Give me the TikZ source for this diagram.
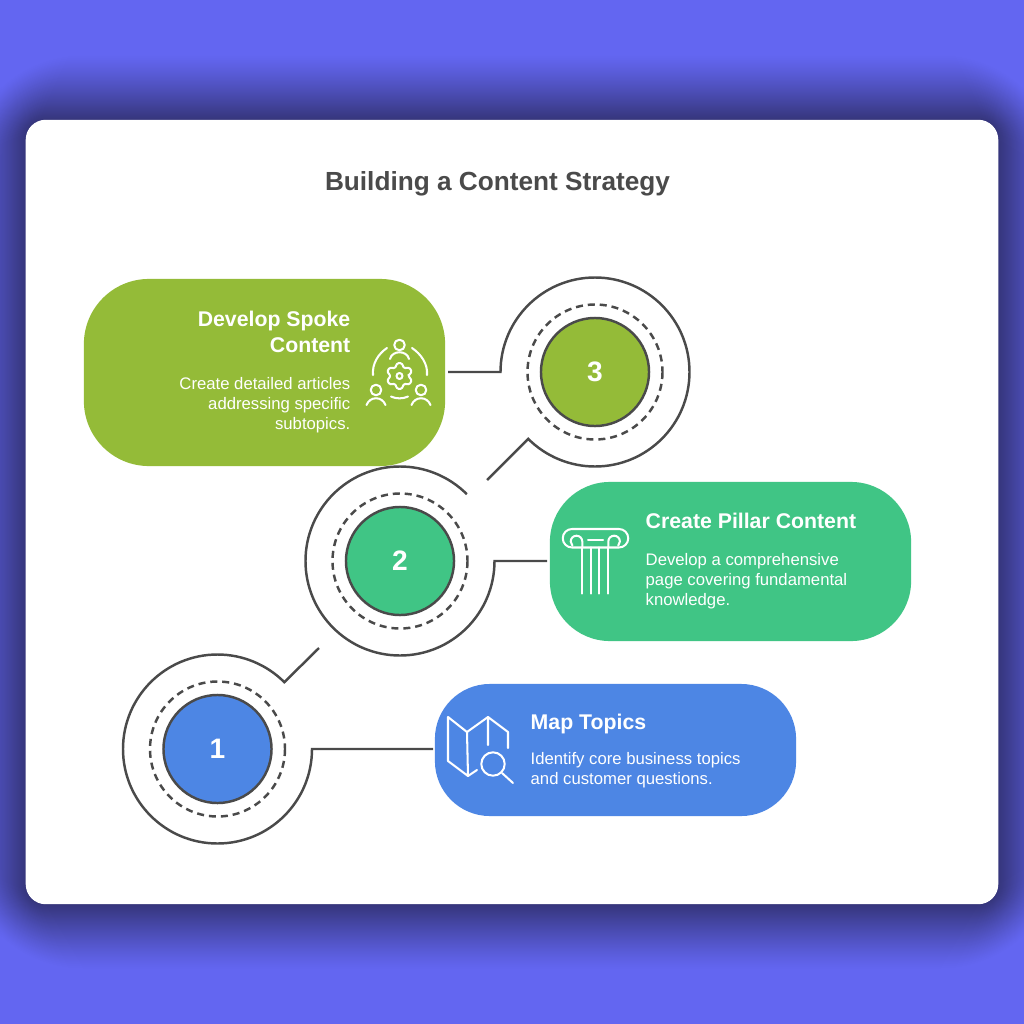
\documentclass[tikz,border=0pt]{standalone}
\usepackage{fontspec}
\setmainfont{Liberation Sans}
\definecolor{pagecol}{HTML}{6366F1}
\definecolor{shadowcol}{HTML}{35357A}
\definecolor{inkcol}{HTML}{4A4A4A}
\definecolor{spokecol}{HTML}{94BB38}
\definecolor{pillarcol}{HTML}{40C585}
\definecolor{mapcol}{HTML}{4D86E4}
\tikzset{
  disc/.style={circle,draw=inkcol,line width=0.7pt,minimum size=1.08cm,inner sep=0pt,text=white,font=\bfseries\fontsize{8}{8}\selectfont},
  ring/.style={draw=inkcol,line width=0.7pt},
  dashring/.style={draw=inkcol,line width=0.7pt,dash pattern=on 2pt off 1.4pt},
  icon/.style={draw=white,line width=0.58pt,line cap=round,line join=round},
  headtxt/.style={text=white,font=\bfseries\fontsize{6.05}{7.6}\selectfont,inner sep=0pt},
  bodytxt/.style={text=white,font=\fontsize{4.75}{5.7}\selectfont,inner sep=0pt}
}
\begin{document}
\begin{tikzpicture}[x=0.01cm,y=-0.01cm]
\useasboundingbox (0,0) rectangle (1024,1024);
\fill[pagecol] (0,0) rectangle (1024,1024);

% Shadow of the sheet
\begin{scope}
\clip (0,0) rectangle (1024,1024);
\foreach \g [evaluate=\g as \p using {100*(1-(1-\g/66)^1.2)}] in {66,65,...,0} {
    \fill[pagecol!\p!shadowcol,rounded corners={(20+1.6*\g)*0.01cm}] (26-\g,120-\g) rectangle (998+\g,904+\g);
}
\end{scope}

% Sheet and title
\node[fill=white,rounded corners=0.2cm,minimum width=9.72cm,minimum height=7.84cm,inner sep=0pt] (sheet) at (512,512) {};
\node[text=inkcol,font=\bfseries\fontsize{7.45}{9}\selectfont,inner sep=0pt] (title) at (497.5,184) {Building a Content Strategy};

% Cards
\node[fill=spokecol,rounded corners=0.65cm,minimum width=3.61cm,minimum height=1.87cm,inner sep=0pt] (spokecard) at (264.5,372.5) {};
\node[fill=pillarcol,rounded corners=0.6cm,minimum width=3.61cm,minimum height=1.59cm,inner sep=0pt] (pillarcard) at (730.5,561.5) {};
\node[fill=mapcol,rounded corners=0.55cm,minimum width=3.61cm,minimum height=1.32cm,inner sep=0pt] (mapcard) at (615.5,750) {};

% Number discs
\node[disc,fill=spokecol] (disc3) at (595,372) {3};
\node[disc,fill=pillarcol] (disc2) at (400,561) {2};
\node[disc,fill=mapcol] (disc1) at (217.5,749) {1};
\foreach \x/\y in {595/372,400/561,217.5/749} {
    \draw[dashring] (\x,\y) circle[radius=67.5];
}

% Rings with their connectors
\coordinate (spokeend) at (448,372);
\coordinate (pillarend) at (547,561);
\coordinate (mapend) at (433,749);
\coordinate (gap3) at (487,480);
\coordinate (gap2) at (319,648);
\draw[ring] (spokeend) -- (500.5,372) arc[start angle=180,end angle=495,radius=94.5] -- (gap3);
\draw[ring] (pillarend) -- (494.5,561) arc[start angle=0,end angle=315,radius=94.5];
\draw[ring] (mapend) -- (312,749) arc[start angle=0,end angle=315,radius=94.5] -- (gap2);

% Card texts
\node[headtxt,anchor=east,align=right] (spokehead) at (351,332) {Develop Spoke\\Content};
\node[bodytxt,anchor=east,align=right] (spokebody) at (351,405.5) {Create detailed articles\\addressing specific\\subtopics.};
\node[headtxt,anchor=west] (pillarhead) at (645,521) {Create Pillar Content};
\node[bodytxt,anchor=west,align=left] (pillarbody) at (645,581.5) {Develop a comprehensive\\page covering fundamental\\knowledge.};
\node[headtxt,anchor=west] (maphead) at (530,724) {Map Topics};
\node[bodytxt,anchor=west,align=left] (mapbody) at (530,770.5) {Identify core business topics\\and customer questions.};

% Team icon
\draw[icon] (399.5,345) circle[radius=5.3];
\draw[icon] (390,359) .. controls (392,350) and (407,350) .. (409,359);
\foreach \x in {376,421} {
    \draw[icon] (\x,390) circle[radius=5.3];
    \draw[icon] (\x-9.5,405) .. controls (\x-6,396) and (\x+6,396) .. (\x+9.5,405);
}
\draw[icon] (373,375) .. controls (372,364) and (378,354) .. (387,348);
\draw[icon] (427,375) .. controls (428,364) and (421,354) .. (412,348);
\draw[icon] (391,396.5) .. controls (396,399) and (403,399) .. (408,396.5);
\draw[icon,rounded corners=0.012cm] ([shift={(399.5,376)}]0:9)
  \foreach \a in {30,90,...,330} { -- ([shift={(399.5,376)}]\a-10:13) -- ([shift={(399.5,376)}]\a+10:13) -- ([shift={(399.5,376)}]\a+30:9) } -- cycle;
\draw[icon] (399.5,376) circle[radius=3];

% Column icon
\draw[icon] (582,547.5) -- (572,547.5) arc[start angle=90,end angle=270,radius=9.25] -- (619,529) arc[start angle=270,end angle=450,radius=9.25] -- (608,547.5) -- cycle;
\draw[icon] (582.3,547.5) -- (582.3,541.5) arc[start angle=0,end angle=-225,radius=5.8];
\draw[icon] (608.3,547.5) -- (608.3,541.5) arc[start angle=180,end angle=405,radius=5.8];
\draw[icon] (588,540) -- (603,540);
\foreach \x in {582.3,590.7,599.3,608.3} {
    \draw[icon] (\x,547.5) -- (\x,593.5);
}

% Map icon
\draw[icon] (488,745) -- (488,717) -- (508,732) -- (508,748);
\draw[icon] (488,717) -- (467,732) -- (468,776) -- (448,761) -- (448,717) -- (467,732);
\draw[icon] (468,776) -- (477,770);
\draw[icon] (493,764) circle[radius=11.7];
\draw[icon] (502,773) -- (513,783);
\end{tikzpicture}
\end{document}
